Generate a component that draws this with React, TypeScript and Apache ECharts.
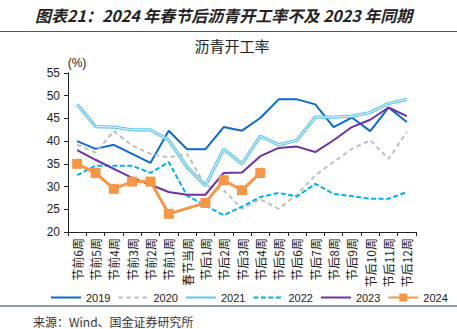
import React, { useEffect, useRef } from "react";
import * as echarts from "echarts";

const categories = [
  "节前6周", "节前5周", "节前4周", "节前3周", "节前2周", "节前1周", "春节当周",
  "节后1周", "节后2周", "节后3周", "节后4周", "节后5周", "节后6周", "节后7周",
  "节后8周", "节后9周", "节后10周", "节后11周", "节后12周",
];
const y2019 = [40, 38.3, 39.2, 37.2, 35.2, 42.3, 38.2, 38.2, 43.1, 42.3, 45.1, 49.2, 49.2, 48.1, 43.1, 45.2, 42.2, 47.4, 44.2];
const y2020 = [39.2, 37.5, 42.2, 39, 37.2, 36.4, 37.2, 30.2, 29.2, 25.1, 27.2, 25.1, 28.2, 32.5, 35.4, 38.3, 40.2, 36.1, 42];
const y2021 = [48.1, 43.2, 43.1, 42.5, 42.5, 40.2, 34.3, 30.2, 38.2, 35, 41.1, 39.2, 40.2, 45.3, 45.3, 45.5, 46.3, 48.3, 49.2];
const y2022 = [32.5, 34.6, 34.6, 34.6, 33, 35.4, 28, 25.8, 23.7, 25.6, 27.7, 28.6, 27.8, 30.6, 28.4, 27.9, 27.3, 27.3, 28.8];
const y2023 = [38, 35.9, 33.9, 31.9, 30.4, 28.8, 28.2, 28.2, 33, 33.1, 36.7, 38.5, 38.8, 37.6, 40.2, 43.1, 44.7, 47.4, 45.5];
const y2024 = [35, 33, 29.5, 31.1, 31.1, 24, null, 26.4, 31.4, 29.2, 33, null, null, null, null, null, null, null, null];
const legendNames = ["2019", "2020", "2021", "2022", "2023", "2024"];
const yTicks = { min: 20, max: 55, interval: 5 };

const titleText = "图表21：2024 年春节后沥青开工率不及 2023 年同期";
const subTitle = "沥青开工率";
const unitText = "(%)";
const sourceText = "来源：Wind、国金证券研究所";

const CJK = "'Noto Sans CJK SC', 'Noto Sans', sans-serif";
const LAT = "'Liberation Sans', Arial, sans-serif";

export default function App() {
  const ref = useRef<HTMLDivElement>(null);
  useEffect(() => {
    document.body.style.margin = "0";
    const chart = echarts.init(ref.current!, null, { renderer: "svg" });
    const line = (name: string, data: any[], color: string, width: number, type: any = "solid", extra: any = {}) => ({
      name,
      type: "line",
      data,
      symbol: "none",
      lineStyle: { color, width, type },
      itemStyle: { color },
      emphasis: { disabled: true },
      ...extra,
    });
    chart.setOption({
      animation: false,
      grid: { left: 68, right: 41, top: 73, bottom: 97 },
      xAxis: {
        type: "category",
        data: categories,
        boundaryGap: true,
        axisLine: { lineStyle: { color: "#222", width: 1 } },
        axisTick: { show: true, length: 4, lineStyle: { color: "#222" } },
        axisLabel: { rotate: 90, fontSize: 12, color: "#222", fontFamily: CJK, margin: 6, interval: 0 },
        splitLine: { show: false },
      },
      yAxis: {
        type: "value",
        min: yTicks.min,
        max: yTicks.max,
        interval: yTicks.interval,
        axisLine: { show: true, lineStyle: { color: "#222", width: 1 } },
        axisTick: { show: true, length: 4, lineStyle: { color: "#222" } },
        axisLabel: { fontSize: 12, color: "#222", fontFamily: LAT, margin: 8 },
        splitLine: { show: false },
      },
      legend: {
        data: legendNames.map((n) =>
          n === "2024" ? { name: n } : { name: n, itemStyle: { color: "rgba(0,0,0,0)", borderWidth: 0 } }
        ),
        left: 45,
        top: 287,
        itemWidth: 30,
        itemHeight: 10,
        itemGap: 7,
        textStyle: { fontSize: 11, color: "#222", fontFamily: LAT },
      },
      series: [
        line("2019", y2019, "#0B6BCB", 2),
        line("2020", y2020, "#BFBFBF", 2, [4.5, 3.5]),
        line("2021", y2021, "#5CC6F0", 3.2),
        line("2021w", y2021, "#EEF9FF", 1),
        line("2022", y2022, "#00B0F0", 2, [5, 2.5]),
        line("2023", y2023, "#7030A0", 2),
        line("2024", y2024, "#F79646", 3, "solid", {
          symbol: "rect",
          symbolSize: 10,
          showSymbol: true,
          connectNulls: true,
        }),
      ],
      graphic: [
        {
          type: "text",
          left: 35,
          top: 7,
          style: { text: titleText, font: `italic bold 16px ${CJK}`, fill: "#222" },
        },
        { type: "line", shape: { x1: 0, y1: 31.5, x2: 457, y2: 31.5 }, style: { stroke: "#555", lineWidth: 1 } },
        {
          type: "text",
          x: 232,
          y: 45,
          style: { text: subTitle, font: `15px ${CJK}`, fill: "#222", align: "center", verticalAlign: "middle" },
        },
        {
          type: "text",
          x: 77,
          y: 63,
          style: { text: unitText, font: `12px ${LAT}`, fill: "#222", align: "center", verticalAlign: "middle" },
        },
        { type: "line", shape: { x1: 0, y1: 306, x2: 457, y2: 306 }, style: { stroke: "#1F3A55", lineWidth: 1 } },
        {
          type: "text",
          x: 33,
          y: 321,
          style: { text: sourceText, font: `12px ${CJK}`, fill: "#333", verticalAlign: "middle" },
        },
      ],
    });
    return () => chart.dispose();
  }, []);
  return <div ref={ref} style={{ width: 457, height: 329 }} />;
}
